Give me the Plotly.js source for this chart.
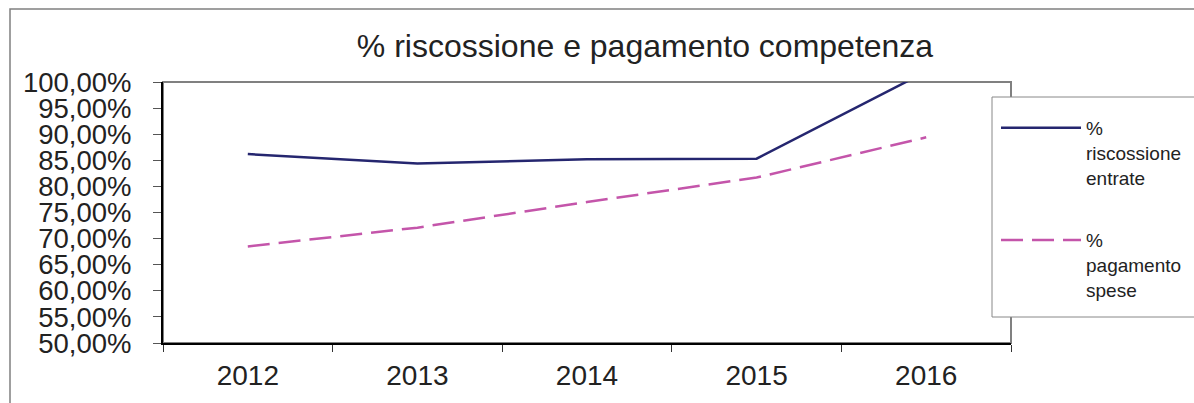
<!DOCTYPE html>
<html>
<head>
<meta charset="utf-8">
<script src="https://cdn.plot.ly/plotly-3.0.1.min.js"></script>
<style>html,body{margin:0;padding:0;background:#fff;}#chart{width:1194px;height:403px;}</style>
</head>
<body>
<div id="chart"></div>
<script>
var years = ["2012", "2013", "2014", "2015", "2016"];
var riscossioneEntrate = [86.2, 84.4, 85.2, 85.3, 102.0];
var pagamentoSpese = [68.5, 72.1, 77.0, 81.7, 89.4];
var seriesNames = ["%<br>riscossione<br>entrate", "%<br>pagamento<br>spese"];
var chartTitle = "% riscossione e pagamento competenza";

var FONT = "Liberation Sans, Arial, sans-serif";

var traces = [
  {
    x: years, y: riscossioneEntrate, type: "scatter", mode: "lines",
    name: seriesNames[0], legendgroup: "a",
    line: {color: "#25266f", width: 2.5}
  },
  {
    x: years, y: pagamentoSpese, type: "scatter", mode: "lines",
    name: seriesNames[1], legendgroup: "b",
    line: {color: "#c455aa", width: 2.5, dash: "22px,9px"}
  }
];

var layout = {
  width: 1194, height: 403,
  paper_bgcolor: "#ffffff", plot_bgcolor: "#ffffff",
  margin: {l: 163, r: 183, t: 82, b: 60, autoexpand: false},
  font: {family: FONT, color: "#222222"},
  title: {
    text: chartTitle,
    font: {family: FONT, size: 32, color: "#222222"},
    x: 645 / 1194, xref: "container", xanchor: "center",
    y: 1 - 46 / 403, yref: "container", yanchor: "middle"
  },
  xaxis: {
    type: "category", range: [-0.5, 4.5],
    tickson: "boundaries", ticks: "outside", ticklen: 7, tickcolor: "#333333", tickwidth: 1,
    showline: true, linecolor: "#000000", linewidth: 2,
    showgrid: false, zeroline: false,
    tickfont: {family: FONT, size: 28, color: "#222222"},
    ticklabelstandoff: 6
  },
  yaxis: {
    range: [50, 100], dtick: 5, tick0: 50,
    tickformat: ".2f", ticksuffix: "%",
    ticks: "outside", ticklen: 8, tickcolor: "#555555", tickwidth: 1,
    showline: true, linecolor: "#000000", linewidth: 2,
    showgrid: false, zeroline: false,
    tickfont: {family: FONT, size: 27.5, color: "#222222"},
    ticklabelstandoff: 16
  },
  separators: ",.",
  showlegend: true,
  legend: {
    x: (996 - 163) / 848, xanchor: "left",
    y: (343 - 109) / 261, yanchor: "top",
    borderwidth: 0, bgcolor: "rgba(0,0,0,0)",
    font: {family: FONT, size: 19, color: "#222222"},
    valign: "top", tracegroupgap: 35, itemwidth: 80
  },
  shapes: [
    {type: "rect", xref: "paper", yref: "paper", x0: (10 - 163) / 848, x1: 1.5, y0: -0.5, y1: (343 - 9) / 261,
     line: {color: "#808080", width: 1.5}, fillcolor: "rgba(0,0,0,0)", layer: "below"},
    {type: "rect", xref: "paper", yref: "paper", x0: 0, x1: 1, y0: 0, y1: 1,
     line: {color: "#808080", width: 2}, fillcolor: "rgba(0,0,0,0)", layer: "below"},
    {type: "rect", xref: "paper", yref: "paper", x0: (992 - 163) / 848, x1: 1.5,
     y0: (343 - 317) / 261, y1: (343 - 97) / 261,
     line: {color: "#888888", width: 1}, fillcolor: "#ffffff", layer: "below"}
  ]
};

Plotly.newPlot("chart", traces, layout, {displayModeBar: false, staticPlot: true});
</script>
</body>
</html>
